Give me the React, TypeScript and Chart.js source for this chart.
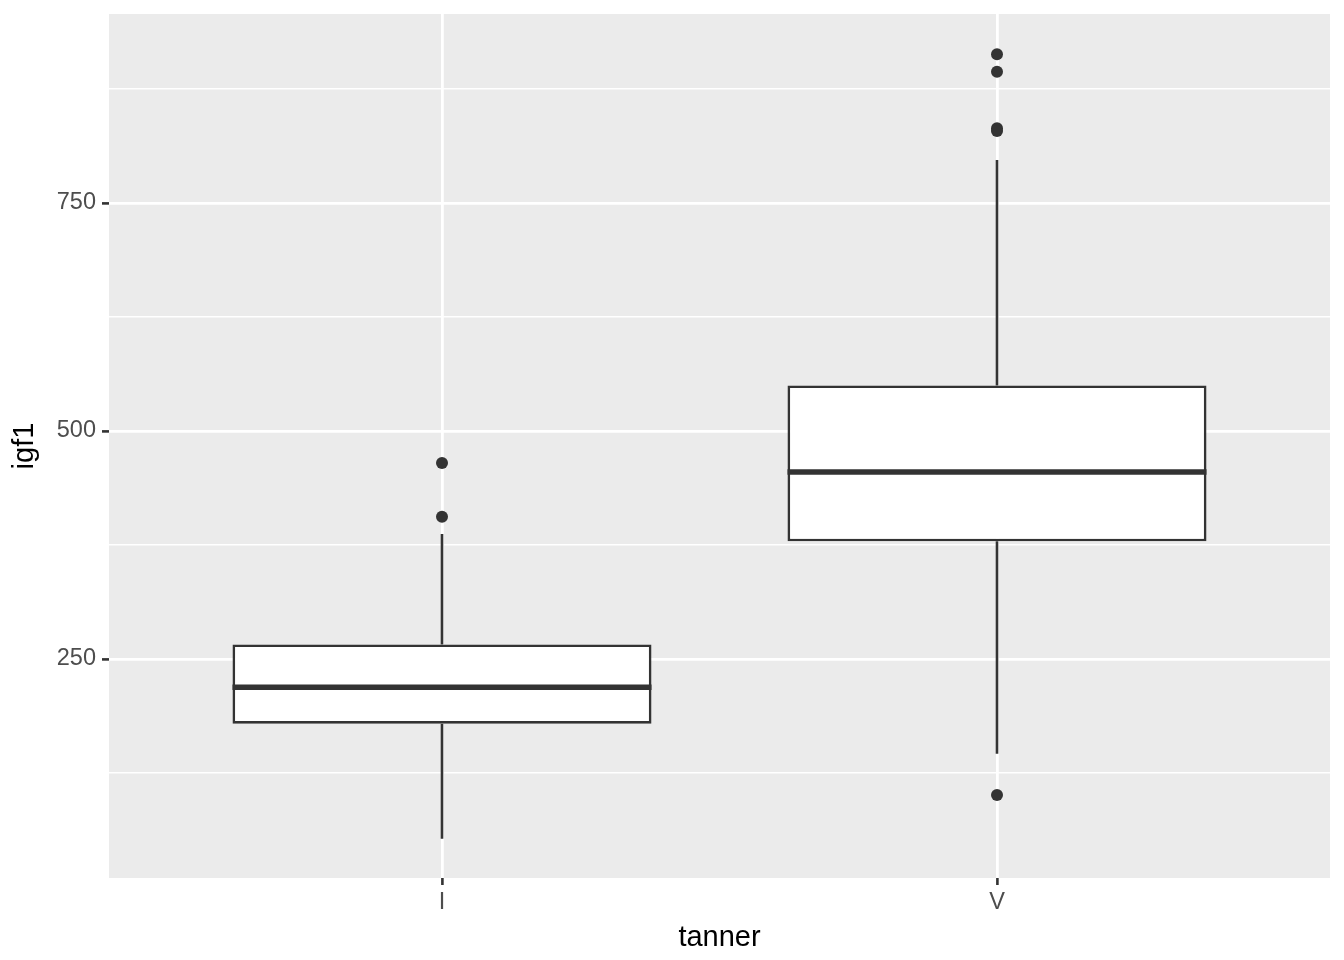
import React, { useEffect, useRef } from "react";
import { Chart, registerables } from "chart.js";

Chart.register(...registerables);

const categories = ["I", "V"];
const positions = [1, 2];
const q1 = [179, 379];
const medians = [219, 455];
const q3 = [266, 550];
const whiskerLow = [53, 146];
const whiskerHigh = [387, 797];
const outliersI = [465, 406];
const outliersV = [913, 894, 832, 829, 101];
const yMajorTicks = [250, 500, 750];
const yMinorTicks = [125, 375, 625, 875];

const FONT = "Liberation Sans, Arial, sans-serif";

const boxPlugin = {
  id: "boxExtras",
  beforeDraw(chart: any) {
    const { ctx, chartArea } = chart;
    ctx.save();
    ctx.fillStyle = "#EBEBEB";
    ctx.fillRect(chartArea.left, chartArea.top, chartArea.right - chartArea.left, chartArea.bottom - chartArea.top);
    ctx.restore();
  },
  afterDatasetDraw(chart: any, args: any) {
    if (args.index !== 0) return;
    const { ctx } = chart;
    const y = chart.scales.y;
    const meta = chart.getDatasetMeta(0);
    ctx.save();
    ctx.strokeStyle = "#333333";
    meta.data.forEach((bar: any, i: number) => {
      const { x, width } = bar.getProps(["x", "width"], true);
      ctx.lineWidth = 2.6;
      ctx.beginPath();
      ctx.moveTo(x, y.getPixelForValue(q3[i]));
      ctx.lineTo(x, y.getPixelForValue(whiskerHigh[i]));
      ctx.moveTo(x, y.getPixelForValue(q1[i]));
      ctx.lineTo(x, y.getPixelForValue(whiskerLow[i]));
      ctx.stroke();
      ctx.lineWidth = 5.5;
      ctx.beginPath();
      const m = y.getPixelForValue(medians[i]);
      ctx.moveTo(x - width / 2, m);
      ctx.lineTo(x + width / 2, m);
      ctx.stroke();
    });
    ctx.restore();
  },
};

export default function App() {
  const ref = useRef<HTMLCanvasElement>(null);
  useEffect(() => {
    document.body.style.margin = "0";
    const chart = new Chart(ref.current as HTMLCanvasElement, {
      type: "bar",
      data: {
        datasets: [
          {
            type: "bar",
            data: positions.map((p, i) => ({ x: p, y: [q1[i], q3[i]] })),
            backgroundColor: "#FFFFFF",
            borderColor: "#333333",
            borderWidth: 2.7,
            borderSkipped: false,
            categoryPercentage: 1,
            barPercentage: 0.755,
            grouped: false,
          } as any,
          {
            type: "scatter",
            data: [
              ...outliersI.map((v) => ({ x: positions[0], y: v })),
              ...outliersV.map((v) => ({ x: positions[1], y: v })),
            ],
            backgroundColor: "#333333",
            borderColor: "#333333",
            pointRadius: 6,
            borderWidth: 0,
          } as any,
        ],
      },
      options: {
        animation: false,
        responsive: true,
        maintainAspectRatio: false,
        layout: { padding: { top: 14, right: 14, left: 0, bottom: 0 } },
        plugins: { legend: { display: false }, tooltip: { enabled: false } },
        scales: {
          x: {
            type: "linear",
            min: 0.4,
            max: 2.6,
            offset: false,
            afterBuildTicks: (s: any) => {
              s.ticks = positions.map((v) => ({ value: v }));
            },
            afterFit: (s: any) => {
              s.height = 82;
              s.paddingLeft = 0;
              s.paddingRight = 0;
            },
            ticks: {
              callback: (v: any) => categories[positions.indexOf(Number(v))] ?? "",
              color: "#4D4D4D",
              font: { family: FONT, size: 23.5 },
              padding: 3,
              maxRotation: 0,
              autoSkip: false,
            },
            grid: {
              offset: false,
              color: "#FFFFFF",
              lineWidth: 2.8,
              drawTicks: true,
              tickLength: 7,
              tickColor: "#333333",
              tickWidth: 2.6,
            },
            border: { display: false },
            title: {
              display: true,
              text: "tanner",
              color: "#000000",
              font: { family: FONT, size: 29 },
              padding: { top: 0, bottom: 5 },
            },
          } as any,
          y: {
            type: "linear",
            min: 9.9,
            max: 957.2,
            afterBuildTicks: (s: any) => {
              s.ticks = [...yMinorTicks, ...yMajorTicks]
                .sort((a, b) => a - b)
                .map((v) => ({ value: v }));
            },
            afterFit: (s: any) => {
              s.width = 109;
              s.paddingTop = 0;
              s.paddingBottom = 0;
            },
            ticks: {
              callback: (v: any) => (yMajorTicks.includes(Number(v)) ? String(v) : ""),
              color: "#4D4D4D",
              font: { family: FONT, size: 23.5 },
              padding: 6,
              autoSkip: false,
            },
            grid: {
              color: "#FFFFFF",
              lineWidth: (c: any) => (yMajorTicks.includes(c.tick?.value) ? 2.8 : 1.4),
              tickLength: 7,
              tickWidth: 2.6,
              tickColor: (c: any) => (yMajorTicks.includes(c.tick?.value) ? "#333333" : "rgba(0,0,0,0)"),
            },
            border: { display: false },
            title: {
              display: true,
              text: "igf1",
              color: "#000000",
              font: { family: FONT, size: 29 },
              padding: { top: 8, bottom: 0 },
            },
          } as any,
        },
      },
      plugins: [boxPlugin],
    });
    return () => chart.destroy();
  }, []);
  return (
    <div style={{ width: 1344, height: 960, position: "relative" }}>
      <canvas ref={ref} />
    </div>
  );
}
